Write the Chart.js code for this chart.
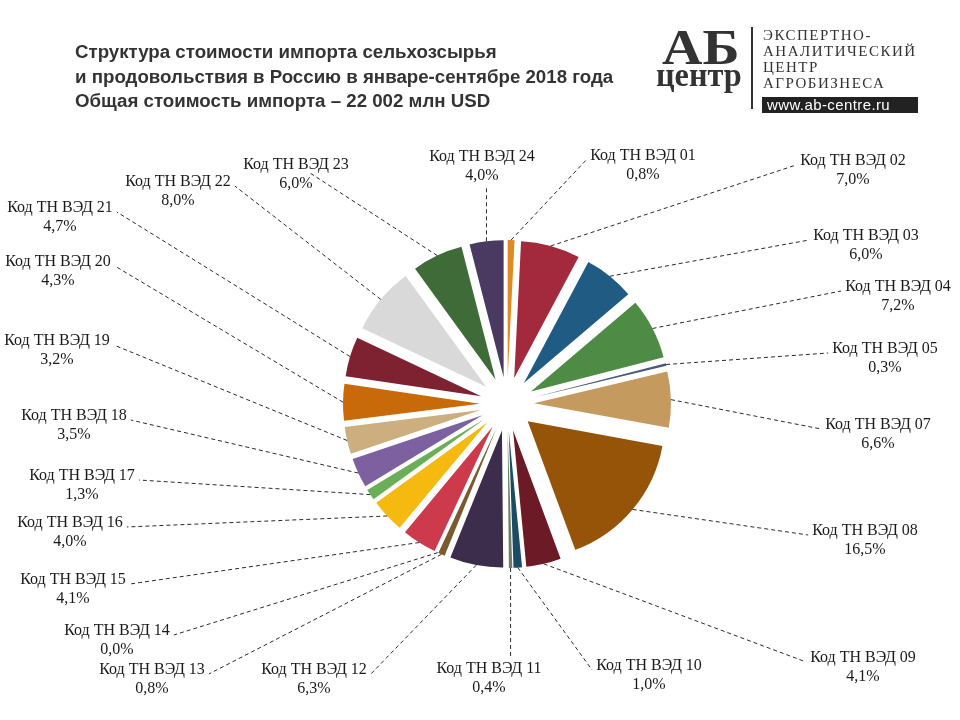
<!DOCTYPE html>
<html lang="ru">
<head>
<meta charset="utf-8">
<script src="https://cdn.jsdelivr.net/npm/chart.js@4/dist/chart.umd.min.js"></script>
<style>
  html, body { margin: 0; padding: 0; background: #fff; }
  #wrap { position: relative; width: 960px; height: 720px; overflow: hidden; }
  #c { position: absolute; left: 0; top: 0; }
  .title { position: absolute; left: 75px; top: 40px; font: bold 18.7px "Liberation Sans", Arial, sans-serif; line-height: 24.5px; color: #333; white-space: nowrap; }
  .ab { position: absolute; left: 662px; top: 25px; font: bold 50px "Liberation Serif", serif; line-height: 44px; color: #333; transform: scaleX(1.12); transform-origin: left top; }
  .centr { position: absolute; left: 656px; top: 60px; font: bold 34px "Liberation Serif", serif; line-height: 30px; color: #333; transform: scaleX(0.95); transform-origin: left top; }
  .vline { position: absolute; left: 751px; top: 27px; width: 2px; height: 82px; background: #333; }
  .org { position: absolute; left: 763px; top: 27px; font: 15px "Liberation Serif", serif; line-height: 16px; color: #333; letter-spacing: 1.5px; white-space: nowrap; }
  .url { position: absolute; left: 762px; top: 97px; width: 156px; height: 16px; background: #222; color: #fff; font: 15px "Liberation Sans", Arial, sans-serif; line-height: 16px; padding-left: 5px; box-sizing: border-box; letter-spacing: 0.4px; white-space: nowrap; }
</style>
</head>
<body>
<div id="wrap">
  <canvas id="c" width="960" height="720"></canvas>
  <div class="title">Структура стоимости импорта сельхозсырья<br>и продовольствия в Россию в январе-сентябре 2018 года<br>Общая стоимость импорта – 22 002 млн USD</div>
  <div class="ab">АБ</div>
  <div class="centr">центр</div>
  <div class="vline"></div>
  <div class="org">ЭКСПЕРТНО-<br>АНАЛИТИЧЕСКИЙ<br>ЦЕНТР<br>АГРОБИЗНЕСА</div>
  <div class="url">www.ab-centre.ru</div>
</div>
<script>
// ---- data ----
const codes = ['01','02','03','04','05','07','08','09','10','11','12','13','14','15','16','17','18','19','20','21','22','23','24'];
const shares = [0.8, 7.0, 6.0, 7.2, 0.3, 6.6, 16.5, 4.1, 1.0, 0.4, 6.3, 0.8, 0.0, 4.1, 4.0, 1.3, 3.5, 3.2, 4.3, 4.7, 8.0, 6.0, 4.0];
const labelPrefix = 'Код ТН ВЭД ';

// ---- styles / layout ----
const sliceColors = ['#E08A24','#A3293C','#1F5B82','#4E8B45','#4A5A78','#C49A5E','#955408','#6B1A26','#1B4C66','#6F7D62',
                     '#3C2D4C','#7A5A2E','#888888','#CC3A4C','#F5B910','#6AAE58','#7C60A0','#CDAE7E','#C86A0A','#7E2232',
                     '#D9D9D9','#3F6B38','#4A3A62'];
const labelX = [643, 853, 866, 898, 885, 878, 865, 863, 649, 489, 314, 152, 117, 73, 70, 82, 74, 57, 58, 60, 178, 296, 482];
const labelY = [156, 161, 236, 287, 349, 425, 531, 658, 666, 669, 670, 670, 631, 580, 523, 476, 416, 341, 262, 208, 182, 165, 157];
const labelSide = ['L','L','L','L','L','L','L','L','L','U','R','R','R','R','R','R','R','R','R','R','R','M','D'];
const EXPLODE = 27;     // radial explosion of every slice, px
const PIE_RADIUS = 137; // px

const fmt = v => v.toFixed(1).replace('.', ',') + '%';

// draw every arc element moved outward along its bisector (exploded pie)
const explodedArcs = {
  id: 'explodedArcs',
  beforeDatasetDraw(chart, args) {
    const ctx = chart.ctx;
    args.meta.data.forEach(arc => {
      const mid = (arc.startAngle + arc.endAngle) / 2;
      ctx.save();
      ctx.translate(Math.cos(mid) * EXPLODE, Math.sin(mid) * EXPLODE);
      arc.draw(ctx);
      ctx.restore();
    });
    return false;
  }
};

const leaderLabels = {
  id: 'leaderLabels',
  afterDatasetsDraw(chart) {
    const ctx = chart.ctx;
    const meta = chart.getDatasetMeta(0);
    ctx.save();
    ctx.font = '16px "Liberation Serif", "Times New Roman", serif';
    meta.data.forEach((arc, i) => {
      const mid = (arc.startAngle + arc.endAngle) / 2;
      const r = arc.outerRadius + EXPLODE;
      const sx = arc.x + Math.cos(mid) * r;
      const sy = arc.y + Math.sin(mid) * r;
      const t1 = labelPrefix + codes[i];
      const w = ctx.measureText(t1).width;
      const cx = labelX[i], ty = labelY[i];
      let ex, ey;
      switch (labelSide[i]) {
        case 'L': ex = cx - w / 2 - 4; ey = ty + 4; break;
        case 'R': ex = cx + w / 2 + 4; ey = ty + 4; break;
        case 'U': ex = sx; ey = ty - 12; break;
        case 'D': ex = sx; ey = ty + 30; break;
        default:  ex = cx + 14; ey = ty + 8;
      }
      ctx.beginPath();
      ctx.setLineDash([4, 3]);
      ctx.strokeStyle = '#2a2a2a';
      ctx.lineWidth = 1;
      ctx.moveTo(sx, sy);
      ctx.lineTo(ex, ey);
      ctx.stroke();
      ctx.setLineDash([]);
      ctx.fillStyle = '#1a1a1a';
      ctx.textAlign = 'center';
      ctx.textBaseline = 'middle';
      ctx.fillText(t1, cx, ty);
      ctx.fillText(fmt(shares[i]), cx, ty + 18.5);
    });
    ctx.restore();
  }
};

new Chart(document.getElementById('c'), {
  type: 'pie',
  data: {
    labels: codes.map(c => labelPrefix + c),
    datasets: [{
      data: shares,
      backgroundColor: sliceColors,
      borderWidth: 0,
      offset: 0,
      radius: PIE_RADIUS
    }]
  },
  options: {
    responsive: false,
    animation: false,
    layout: { padding: { left: 100, right: 46, top: 100, bottom: 12 } },
    plugins: { legend: { display: false }, tooltip: { enabled: false }, title: { display: false } },
    events: []
  },
  plugins: [explodedArcs, leaderLabels]
});
</script>
</body>
</html>
